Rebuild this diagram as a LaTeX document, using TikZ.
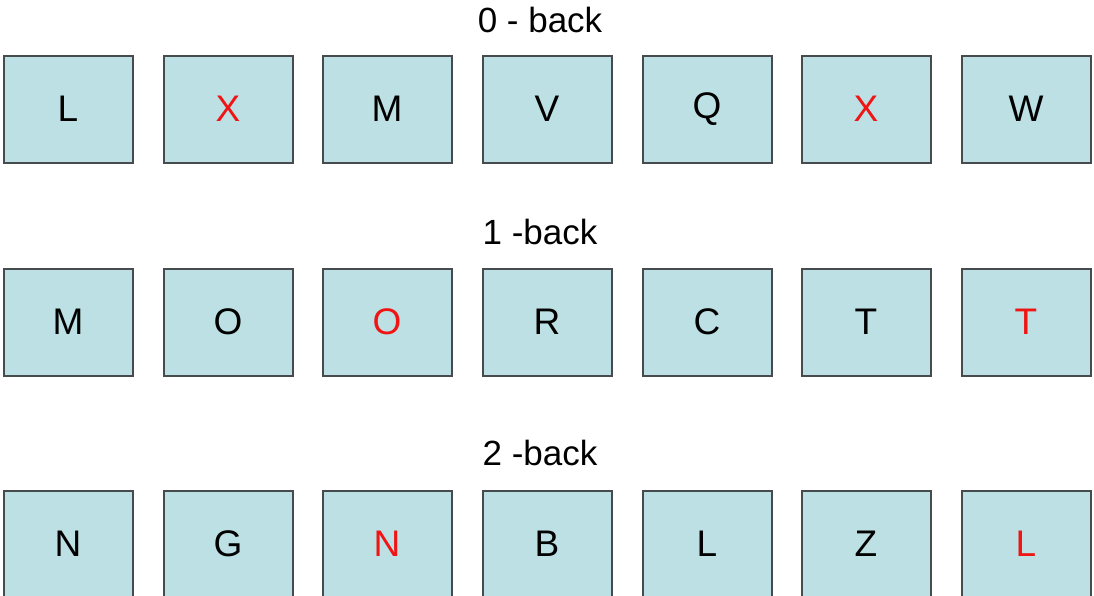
\documentclass[tikz,border=0pt]{standalone}
\usepackage{fontspec}
\setmainfont{Liberation Sans}
\definecolor{cellfill}{RGB}{188,224,227}
\definecolor{cellline}{RGB}{70,76,78}
\definecolor{hit}{RGB}{240,20,20}
\tikzset{
  cell/.style={draw=cellline, fill=cellfill, line width=2pt, minimum width=129pt,
    minimum height=107pt, inner sep=0pt, font=\fontsize{37}{37}\selectfont},
  target/.style={cell, text=hit},
  rowtitle/.style={font=\fontsize{35}{35}\selectfont, inner sep=0pt}
}
\begin{document}
\begin{tikzpicture}[x=1pt,y=-1pt]
\useasboundingbox (0,0) rectangle (1094,595);

% 0-back
\node[rowtitle] (t0) at (540,20) {0 - back};
\node[cell] (a1) at (68,109) {L};
\node[target] (a2) at (228,109) {X};
\node[cell] (a3) at (387,109) {M};
\node[cell] (a4) at (547,109) {V};
\node[cell] (a5) at (707,109) {Q};
\node[target] (a6) at (866,109) {X};
\node[cell] (a7) at (1026,109) {W};

% 1-back
\node[rowtitle] (t1) at (540,232) {1 -back};
\node[cell] (b1) at (68,322) {M};
\node[cell] (b2) at (228,322) {O};
\node[target] (b3) at (387,322) {O};
\node[cell] (b4) at (547,322) {R};
\node[cell] (b5) at (707,322) {C};
\node[cell] (b6) at (866,322) {T};
\node[target] (b7) at (1026,322) {T};

% 2-back
\node[rowtitle] (t2) at (540,453) {2 -back};
\node[cell] (c1) at (68,544) {N};
\node[cell] (c2) at (228,544) {G};
\node[target] (c3) at (387,544) {N};
\node[cell] (c4) at (547,544) {B};
\node[cell] (c5) at (707,544) {L};
\node[cell] (c6) at (866,544) {Z};
\node[target] (c7) at (1026,544) {L};
\end{tikzpicture}
\end{document}
